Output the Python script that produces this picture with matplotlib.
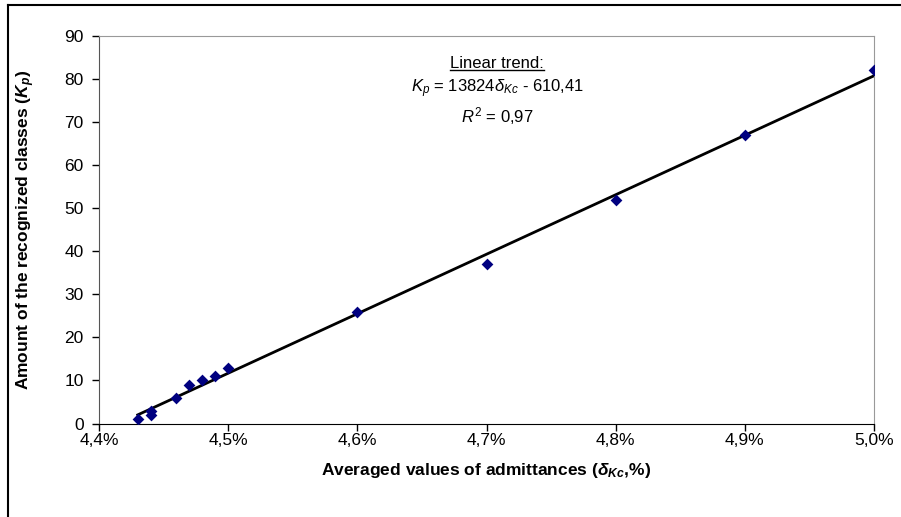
import numpy as np
import matplotlib
matplotlib.use('Agg')
import matplotlib.pyplot as plt
from matplotlib.lines import Line2D
from matplotlib.ticker import FuncFormatter

plt.rcParams['font.family'] = ['Liberation Sans', 'DejaVu Sans']
plt.rcParams['mathtext.fontset'] = 'custom'
plt.rcParams['mathtext.rm'] = 'Liberation Sans'
plt.rcParams['mathtext.it'] = 'Liberation Sans:italic'
plt.rcParams['mathtext.bf'] = 'Liberation Sans:bold'
plt.rcParams['mathtext.bfit'] = 'Liberation Sans:bold:italic'

# data: averaged admittances (%) vs number of recognized classes
admittance = [4.43, 4.44, 4.44, 4.46, 4.47, 4.48, 4.49, 4.50, 4.60, 4.70, 4.80, 4.90, 5.00]
classes = [1, 3, 2, 6, 9, 10, 11, 13, 26, 37, 52, 67, 82]

x_ticks = [4.4, 4.5, 4.6, 4.7, 4.8, 4.9, 5.0]
y_ticks = [0, 10, 20, 30, 40, 50, 60, 70, 80, 90]

fig = plt.figure(figsize=(9.01, 5.17), dpi=100)
ax = fig.add_axes([99 / 901, 1 - 423.5 / 517, 775 / 901, 387.5 / 517])

# linear trend from least squares
coef = np.polyfit(admittance, classes, 1)
xs = np.array([min(admittance), max(admittance)])
ax.plot(xs, np.polyval(coef, xs), color='black', lw=2.0, zorder=2)

ax.scatter(admittance, classes, marker='D', s=36, color='#000080', zorder=3, linewidths=0)

ax.set_xlim(4.4, 5.0)
ax.set_ylim(0, 90)
ax.set_xticks(x_ticks)
ax.set_yticks(y_ticks)
ax.xaxis.set_major_formatter(FuncFormatter(lambda v, p: f'{v:.1f}%'.replace('.', ',')))
ax.tick_params(direction='out', length=5, width=1, labelsize=12.5, colors='black')
ax.tick_params(axis='x', pad=2)
ax.tick_params(axis='y', pad=6)

for side in ['top', 'right']:
    ax.spines[side].set_color('#999999')
ax.spines['left'].set_color('#555555')
ax.spines['bottom'].set_color('black')

ax.set_xlabel(r'Averaged values of admittances ($\mathbfit{\delta}_{\mathbfit{Kc}}$,%)',
              fontsize=12.5, fontweight='bold', labelpad=9)
ax.set_ylabel(r'Amount of the recognized classes ($\mathbfit{K}_{\mathbfit{p}}$)',
              fontsize=12.5, fontweight='bold', labelpad=20)

# trend annotation
t1 = ax.text(0.514, 0.928, 'Linear trend:', transform=ax.transAxes, ha='center', va='center', fontsize=12)
ax.text(0.514, 0.864, r'$K_p$ = 13824$\delta_{Kc}$ - 610,41', transform=ax.transAxes,
        ha='center', va='center', fontsize=12)
ax.text(0.514, 0.794, r'$R^2$ = 0,97', transform=ax.transAxes, ha='center', va='center', fontsize=12)

# underline the heading
fig.canvas.draw()
bb = t1.get_window_extent().transformed(fig.transFigure.inverted())
fig.add_artist(Line2D([bb.x0, bb.x1], [bb.y0 + 0.002, bb.y0 + 0.002], color='black', lw=1.0))

# outer frame (top and left visible)
fig.add_artist(Line2D([8 / 901, 8 / 901], [-0.1, 1 - 4.5 / 517], color='black', lw=1.5))
fig.add_artist(Line2D([8 / 901, 1.1], [1 - 4.5 / 517, 1 - 4.5 / 517], color='black', lw=1.5))

fig.savefig('out.png', dpi=100)
